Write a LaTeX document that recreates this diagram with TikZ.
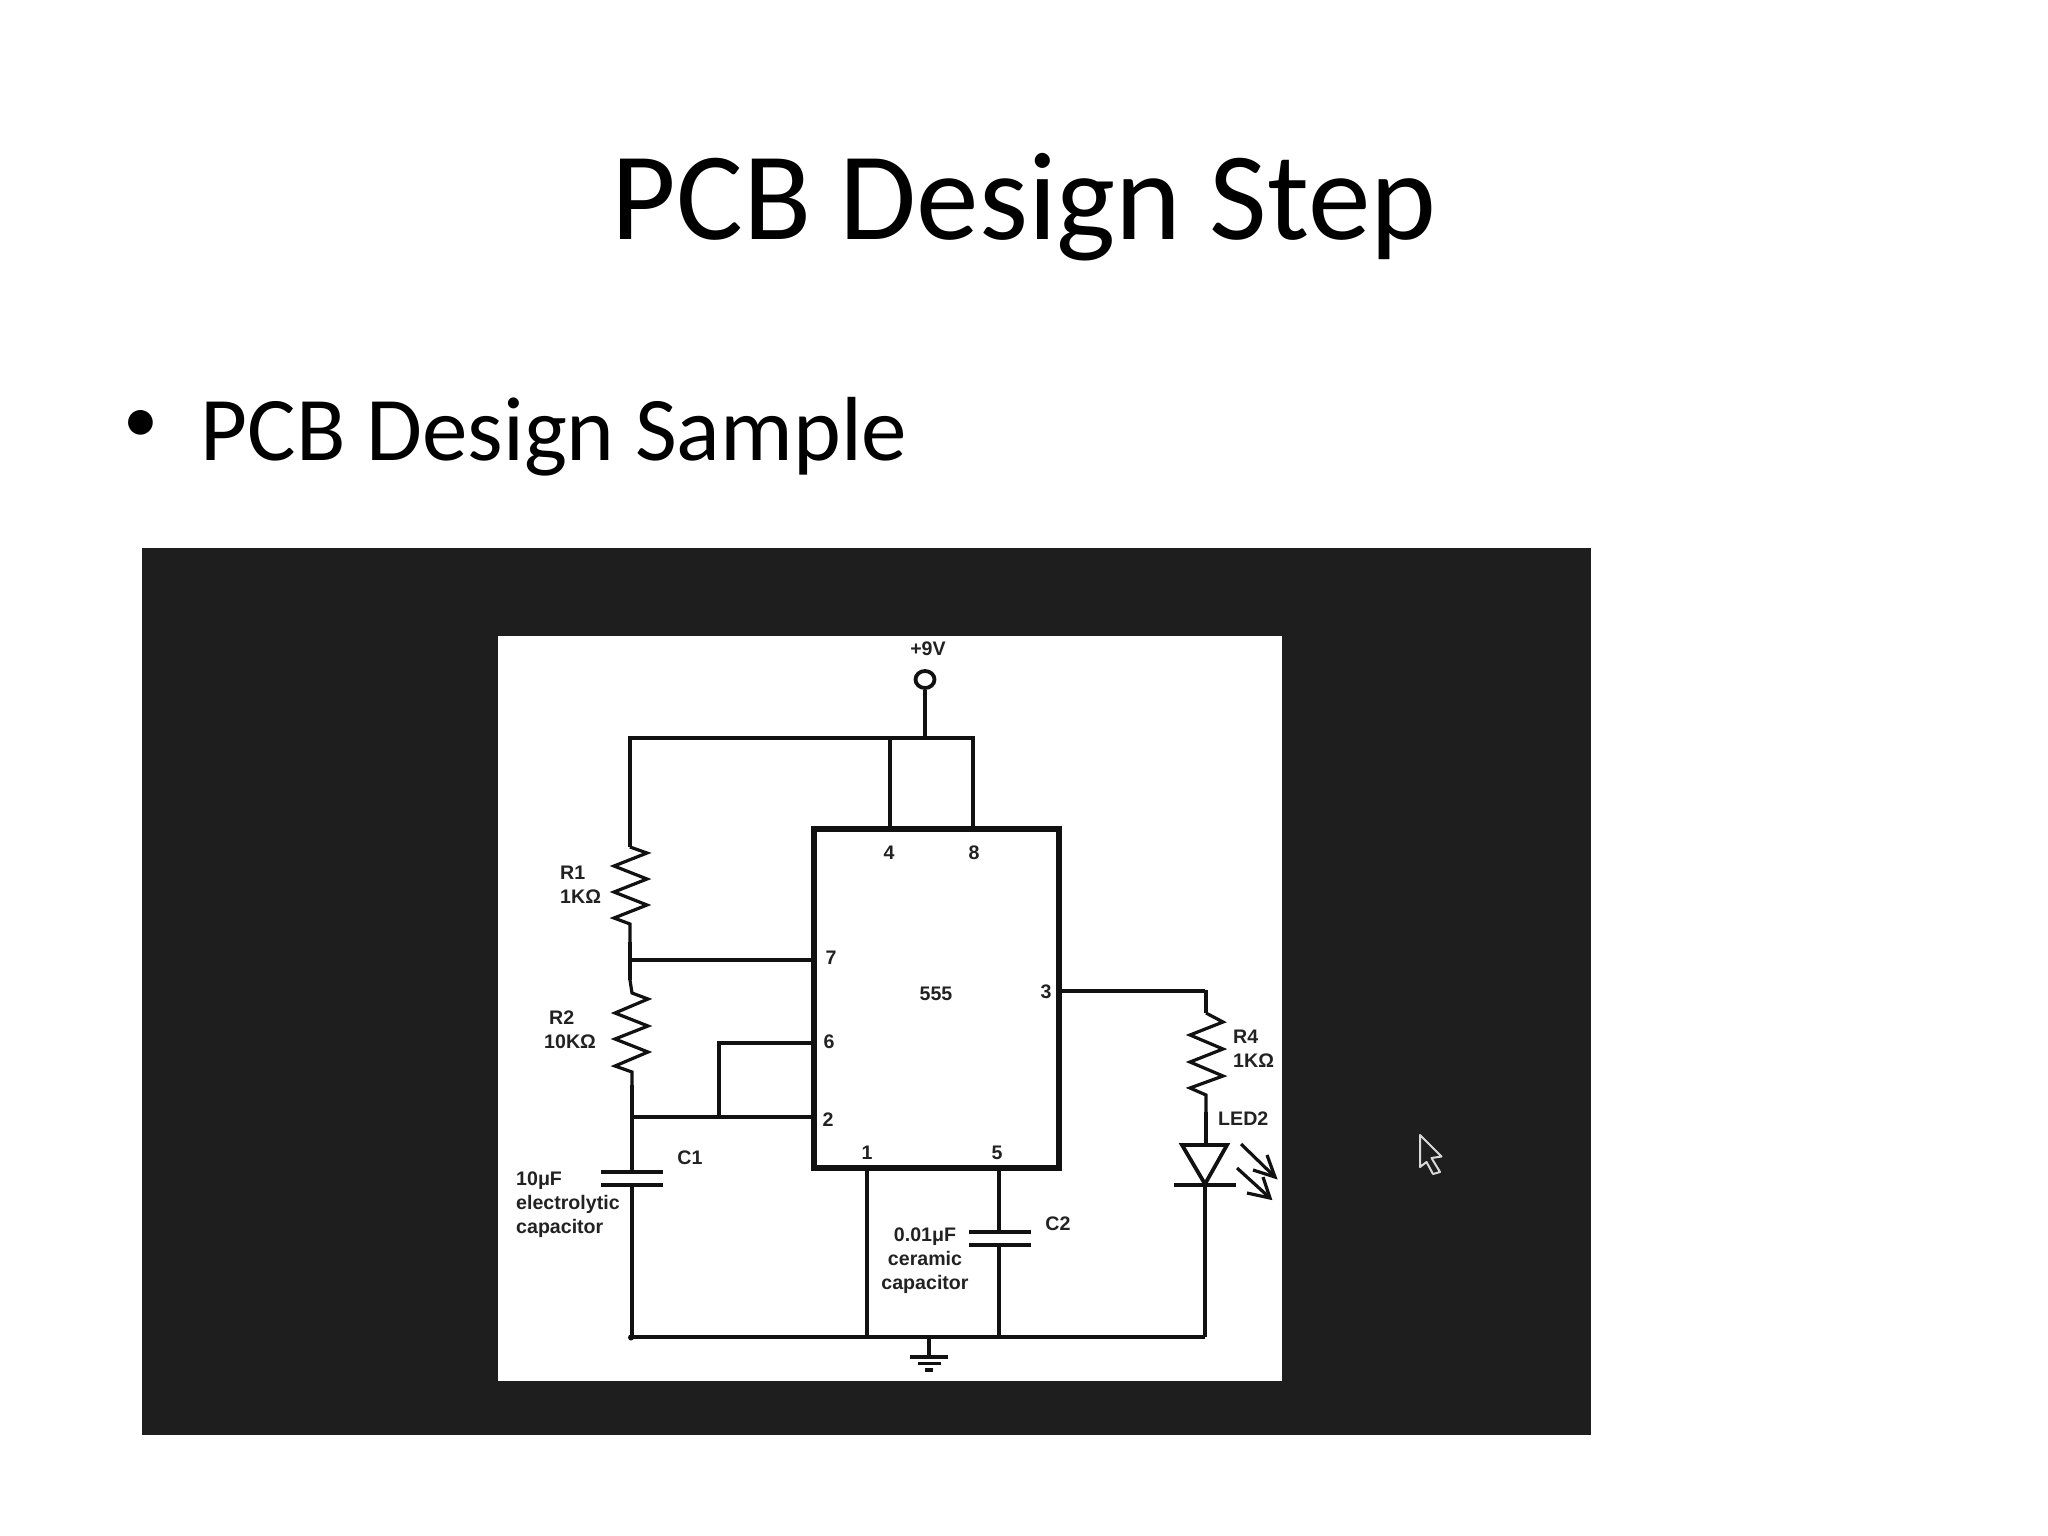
\documentclass[tikz,border=0pt]{standalone}
\usepackage{fontspec}
\setmainfont{Carlito}
\newfontfamily\lblfont{Liberation Sans Bold}
\usetikzlibrary{shapes.geometric}
\definecolor{panel}{HTML}{1E1E1E}
\definecolor{ink}{HTML}{111111}
\definecolor{lblink}{HTML}{222222}
\tikzset{
  x=1pt,y=-1pt,
  wire/.style={draw=ink,line width=3.8pt,line join=miter},
  thickwire/.style={draw=ink,line width=4.8pt},
  zig/.style={draw=ink,line width=3.2pt,line join=miter},
  chipbox/.style={draw=ink,line width=6.6pt,line join=miter},
  lbl/.style={inner sep=0pt,text=lblink,yshift=-0.5pt,font=\lblfont\fontsize{19.6}{24}\selectfont},
}
\begin{document}
\begin{tikzpicture}
\useasboundingbox (0,0) rectangle (2048,1536);
\fill[white] (0,0) rectangle (2048,1536);
\node[inner sep=0pt,font=\fontsize{125.3}{140}\selectfont] (title) at (1024,207) {PCB Design Step};
\node[inner sep=0pt,font=\fontsize{91}{100}\selectfont,anchor=west] (bullettext) at (200.5,437) {PCB Design Sample};
\node[inner sep=0pt,font=\fontsize{70}{80}\selectfont] (bulletmark) at (141,426) {•};
\fill[panel] (142,548) rectangle (1591,1435);
\fill[white] (498,636) rectangle (1282,1381);
% chip
\coordinate (chiptl) at (814,829);
\coordinate (chipbr) at (1059,1168);
\draw[chipbox] (chiptl) rectangle (chipbr);
% coordinates
\coordinate (tl) at (630,738); \coordinate (tr) at (973,738);
\coordinate (t4) at (890,738); \coordinate (t9) at (925,738);
\coordinate (p4) at (890,829); \coordinate (p8) at (973,829);
\coordinate (p7) at (814,960); \coordinate (j7) at (631,960);
\coordinate (p6) at (814,1043); \coordinate (c6) at (719,1043);
\coordinate (p2) at (814,1117); \coordinate (j2) at (632,1117); \coordinate (j6) at (719,1117);
\coordinate (p1) at (867,1168); \coordinate (b1) at (867,1337);
\coordinate (p5) at (999,1168); \coordinate (b5) at (999,1337);
\coordinate (p3) at (1059,991); \coordinate (c3) at (1205,991);
\coordinate (bl) at (632,1337); \coordinate (br) at (1205,1337);
\coordinate (gt) at (929,1337); \coordinate (gb) at (929,1357);
% +9V
\node[draw=ink,line width=3.8pt,ellipse,minimum width=19pt,minimum height=17pt,inner sep=0pt,fill=white] (vcc) at (925,679.5) {};
\draw[wire] (vcc.south) -- (t9);
\draw[wire] (630,847) -- (tl) -- (tr) -- (p8);
\draw[wire] (t4) -- (p4);
% R1
\draw[zig] (630,847) -- (647,853) -- (614,866) -- (647,879) -- (614,892) -- (647,905) -- (614,918) -- (630,924) -- (630,942);
\draw[thickwire] (630,942) -- (630,980);
\draw[wire] (j7) -- (p7);
% R2
\draw[zig] (630,980) -- (632,993) -- (648,999) -- (615,1013) -- (648,1026) -- (615,1039) -- (648,1052) -- (615,1066) -- (632,1072) -- (632,1085);
\draw[wire] (632,1085) -- (j2) -- (p2);
\draw[wire] (j6) -- (c6) -- (p6);
% C1
\draw[wire] (j2) -- (632,1172);
\draw[wire] (601,1172) -- (663,1172);
\draw[wire] (601,1185) -- (663,1185);
\draw[wire] (632,1185) -- (bl);
\fill[ink] (631,1337.5) circle (3);
\draw[wire] (bl) -- (br);
% pin 1
\draw[wire] (p1) -- (b1);
% pin 5 / C2
\draw[wire] (p5) -- (999,1232);
\draw[wire] (969,1232) -- (1031,1232);
\draw[wire] (969,1245) -- (1031,1245);
\draw[wire] (999,1245) -- (b5);
% ground
\draw[wire] (gt) -- (gb);
\draw[wire] (910,1357) -- (948,1357);
\draw[wire] (918,1363.5) -- (941,1363.5);
\draw[wire] (925,1370) -- (933,1370);
% pin 3, R4, LED
\draw[wire] (p3) -- (c3);
\draw[thickwire] (1206,990) -- (1206,1013);
\draw[zig] (1206,1013) -- (1223,1022) -- (1190,1035) -- (1223,1049) -- (1190,1062) -- (1223,1076) -- (1190,1088) -- (1206,1095) -- (1206,1112);
\draw[thickwire] (1206,1112) -- (1206,1145);
\draw[wire] (1182,1145) -- (1227,1145) -- (1205,1184) -- cycle;
\draw[wire] (1174,1185) -- (1236,1185);
\draw[wire] (1205,1185) -- (br);
% LED arrows
\coordinate (a1s) at (1241,1144); \coordinate (a1e) at (1275,1177);
\coordinate (a2s) at (1237,1168); \coordinate (a2e) at (1270,1198);
\draw[zig] (a1s) -- (a1e); \draw[zig] (1267,1155) -- (a1e) -- (1253,1170);
\draw[zig] (a2s) -- (a2e); \draw[zig] (1263,1177) -- (a2e) -- (1247,1193);
% labels
\node[lbl] (l9v) at (928,648) {+9V};
\node[lbl] (l4) at (889,852) {4};
\node[lbl] (l8) at (974,852) {8};
\node[lbl] (l7) at (831,957) {7};
\node[lbl] (l555) at (936,993) {555};
\node[lbl] (l6) at (829,1041) {6};
\node[lbl] (l2) at (828,1119) {2};
\node[lbl] (l1) at (867,1152) {1};
\node[lbl] (l5) at (997,1152) {5};
\node[lbl] (l3) at (1046,991) {3};
\node[lbl] (lc1) at (690,1157) {C1};
\node[lbl] (lc2) at (1058,1223) {C2};
\node[lbl,align=left,anchor=west] (lr1) at (560,884) {R1\\1KΩ};
\node[lbl,align=left,anchor=west] (lr2) at (544,1029) {\hspace{5pt}R2\\10KΩ};
\node[lbl,align=left,anchor=west] (lr4) at (1233,1048) {R4\\1KΩ};
\node[lbl,anchor=west] (lled) at (1218,1118) {LED2};
\node[lbl,align=left,anchor=west] (lc1v) at (516,1204.5) {10μF\\electrolytic\\capacitor};
\node[lbl,align=center] (lc2v) at (925,1260) {0.01μF\\ceramic\hspace{3pt}\\capacitor};
% cursor
\draw[fill=panel,draw=white!85!black,line width=2pt,line join=round] (1420,1135) -- (1441.5,1156.5) -- (1431.5,1158) -- (1440,1172) -- (1433,1174) -- (1426.5,1162) -- (1420,1167) -- cycle;
\end{tikzpicture}
\end{document}
